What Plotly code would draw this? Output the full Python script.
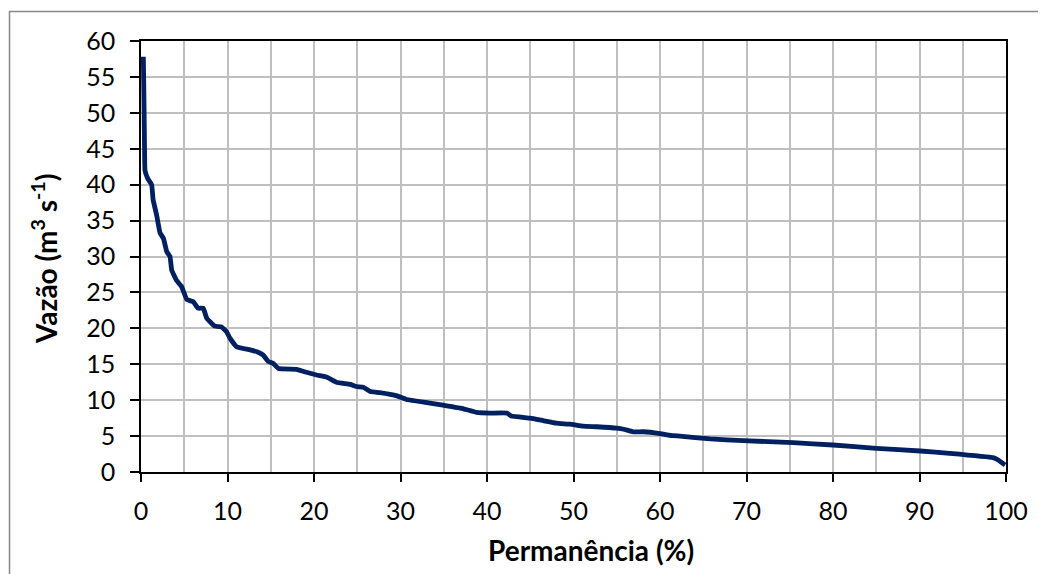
import plotly.graph_objects as go

# Flow duration curve values
permanencia = [0.27, 0.33, 0.38, 0.42, 0.46, 0.8, 1.23, 1.4, 1.8, 2.2, 2.6, 2.97, 3.35, 3.55, 4.1, 4.7,
               5.3, 6.05, 6.6, 7.2, 7.6, 8.55, 9.3, 9.9, 10.3, 11.05, 12.6, 13.4, 14.1, 14.7,
               15.3, 15.9, 18.0, 18.8, 20.3, 21.5, 22.6, 24.2, 24.9, 25.7, 26.5, 27.6, 29.6,
               30.7, 33.4, 34.9, 37.3, 38.8, 40.3, 42.3, 42.8, 45.0, 46.5, 48.0, 49.6, 51.1,
               52.7, 55.0, 55.8, 56.9, 58.1, 60.0, 61.5, 62.3, 65.8, 69.6, 75.4, 80.0, 85.0,
               90.1, 93.5, 98.5, 99.1, 99.9]
vazao = [57.8, 53.0, 48.0, 44.0, 42.0, 40.8, 40.0, 37.9, 35.8, 33.3, 32.5, 30.7, 30.0, 28.1, 26.7, 25.8,
         24.0, 23.7, 22.8, 22.8, 21.4, 20.3, 20.2, 19.5, 18.6, 17.45, 17.0, 16.75, 16.3, 15.4,
         15.1, 14.4, 14.3, 14.0, 13.5, 13.2, 12.5, 12.2, 11.9, 11.8, 11.2, 11.05, 10.6,
         10.1, 9.6, 9.3, 8.8, 8.3, 8.2, 8.2, 7.8, 7.5, 7.15, 6.8, 6.65, 6.4,
         6.3, 6.1, 5.95, 5.6, 5.6, 5.35, 5.05, 5.0, 4.6, 4.36, 4.08, 3.76, 3.3,
         2.92, 2.6, 2.0, 1.67, 0.97]

x_ticks = [0, 10, 20, 30, 40, 50, 60, 70, 80, 90, 100]
y_ticks = [0, 5, 10, 15, 20, 25, 30, 35, 40, 45, 50, 55, 60]

FONT = "Lato"
OFF = 8  # page body margin
L, R, T, B = 141 - OFF, 1006 - OFF, 41 - OFF, 472 - OFF
W, H = 1046 - OFF, 574 - OFF

fig = go.Figure()
fig.add_trace(go.Scatter(x=permanencia, y=vazao, mode="lines",
                         line=dict(color="#002060", width=4.8, shape="spline", smoothing=0.3),
                         showlegend=False, hoverinfo="x+y"))

fig.update_layout(
    width=W, height=H,
    margin=dict(l=L, r=W - R, t=T, b=H - B, pad=0, autoexpand=False),
    paper_bgcolor="white", plot_bgcolor="white",
    font=dict(family=FONT, size=25, color="black"),
    showlegend=False,
)
fig.update_xaxes(range=[0, 100], tickvals=x_ticks, ticks="outside", ticklen=8, tickwidth=1.5,
                 tickcolor="black", showline=True, linecolor="black", linewidth=1.5,
                 mirror=True, showgrid=True, gridcolor="#BFBFBF", gridwidth=1.5,
                 minor=dict(dtick=5, tick0=0, showgrid=True, gridcolor="#BFBFBF", gridwidth=1.5),
                 zeroline=False, tickfont=dict(size=25, family=FONT), ticklabelstandoff=8,
                 automargin=False)
fig.update_yaxes(range=[0, 60], tickvals=y_ticks, ticks="outside", ticklen=9, tickwidth=1.5,
                 tickcolor="black", showline=True, linecolor="black", linewidth=1.5,
                 mirror=True, showgrid=True, gridcolor="#BFBFBF", gridwidth=1.5,
                 zeroline=False, tickfont=dict(size=25, family=FONT), ticklabelstandoff=10,
                 automargin=False)

def px_x(p):
    return (p - OFF - L) / (R - L)

def px_y(p):
    return (B - (p - OFF)) / (B - T)

fig.add_annotation(x=px_x(591), y=px_y(550), xref="paper", yref="paper",
                   text="<b>Permanência (%)</b>", showarrow=False,
                   font=dict(size=28, family=FONT), xanchor="center", yanchor="middle")
fig.add_annotation(x=px_x(44), y=px_y(259), xref="paper", yref="paper",
                   text="<b>Vazão (m<sup>3</sup> s<sup>-1</sup>)</b>", showarrow=False, textangle=-90,
                   font=dict(size=28, family=FONT), xanchor="center", yanchor="middle")

fig.add_shape(type="rect", xref="paper", yref="paper",
              x0=px_x(9.5), y0=px_y(11.5), x1=px_x(1060), y1=px_y(590),
              line=dict(color="#888888", width=1.5), fillcolor="rgba(0,0,0,0)", layer="below")

fig.write_html("out.html")
